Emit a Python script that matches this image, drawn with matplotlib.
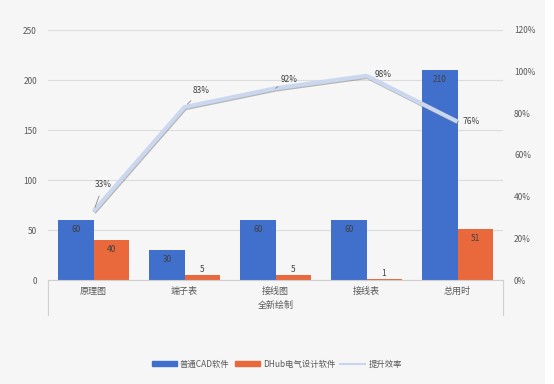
import matplotlib
matplotlib.use('Agg')
import matplotlib.pyplot as plt
import matplotlib.ticker as mtick
import matplotlib.patheffects as pe
from matplotlib.lines import Line2D
from matplotlib.patches import Rectangle
import numpy as np

plt.rcParams['font.family'] = ['Noto Sans CJK SC', 'DejaVu Sans']

# data
categories = ['原理图', '端子表', '接线图', '接线表', '总用时']
group_label = '全新绘制'
cad_values = [60, 30, 60, 60, 210]
dhub_values = [40, 5, 5, 1, 51]
efficiency = [0.33, 0.83, 0.92, 0.98, 0.76]
eff_labels = ['33%', '83%', '92%', '98%', '76%']
series_names = ['普通CAD软件', 'DHub电气设计软件', '提升效率']

blue = '#4170cc'
orange = '#e9693c'
text_col = '#595959'
bg = '#f6f6f6'

fig = plt.figure(figsize=(5.54, 3.84), dpi=100, facecolor=bg)
# white strip on the right edge
fig.add_artist(Rectangle((545 / 554, 0), 9 / 554, 1, transform=fig.transFigure,
                         facecolor='white', edgecolor='none'))

ax = fig.add_axes([48 / 554, 1 - 280 / 384, 455 / 554, 250 / 384])
ax.set_facecolor(bg)
ax2 = ax.twinx()

x = np.arange(len(categories))
w = 0.385

b1 = ax.bar(x - w / 2, cad_values, w, color=blue, zorder=2)
b2 = ax.bar(x + w / 2, dhub_values, w, color=orange, zorder=2)

# bar value labels: inside the top when tall enough, above otherwise
for bars, vals in [(b1, cad_values), (b2, dhub_values)]:
    for rect, v in zip(bars, vals):
        cx = rect.get_x() + rect.get_width() / 2
        dy = -7 if v > 15 else 4
        ax.annotate(str(v), (cx, v), xytext=(0, dy), textcoords='offset points',
                    ha='center', va='center', fontsize=6, color='#404040', zorder=4)

ax.set_ylim(0, 250)
ax.set_yticks(range(0, 251, 50))
ax.set_xlim(-0.5, len(categories) - 0.5)
ax.set_xticks(x)
ax.set_xticklabels(categories)
ax.tick_params(axis='x', length=0, pad=5, labelsize=6.5, colors=text_col)
ax.tick_params(axis='y', length=0, pad=8, labelsize=6, colors=text_col)
ax.grid(axis='y', color='#dcdcdc', linewidth=0.8, zorder=0)
ax.set_axisbelow(True)
for s in ['top', 'right', 'left']:
    ax.spines[s].set_visible(False)
ax.spines['bottom'].set_color('#d0d0d0')

# efficiency line, pale with a soft shadow
ax2.plot(x, efficiency, color='#cbd7ef', linewidth=3, solid_capstyle='butt', zorder=5,
         path_effects=[pe.SimpleLineShadow(offset=(0.5, -0.8), shadow_color='#808080', alpha=0.55),
                       pe.Normal()])
ax2.set_ylim(0, 1.2)
ax2.set_yticks(np.arange(0, 1.21, 0.2))
ax2.yaxis.set_major_formatter(mtick.PercentFormatter(1.0, decimals=0))
ax2.tick_params(axis='y', length=0, pad=8, labelsize=6, colors=text_col)
for s in ax2.spines.values():
    s.set_visible(False)

offsets = [(7, 19), (12, 12), (10, 6.5), (12, 1), (10, 0)]
leaders = [True, True, True, False, False]
for xi, yi, lab, off, lead in zip(x, efficiency, eff_labels, offsets, leaders):
    props = dict(arrowstyle='-', color='#8a8a8a', lw=0.6, shrinkA=3, shrinkB=3) if lead else None
    ax2.annotate(lab, (xi, yi), xytext=off, textcoords='offset points',
                 ha='center', va='center', fontsize=6, color='#404040',
                 arrowprops=props, zorder=6)

# group label with its bracket lines
ax.text(0.5, -0.10, group_label, transform=ax.transAxes, ha='center', va='center',
        fontsize=6.5, color=text_col)
for xa in [0, 1]:
    ax.add_line(Line2D([xa, xa], [0, -0.14], transform=ax.transAxes, color='#d0d0d0',
                       linewidth=0.8, clip_on=False))

handles = [Rectangle((0, 0), 1, 1, color=blue), Rectangle((0, 0), 1, 1, color=orange),
           Line2D([], [], color='#c8d5ee', linewidth=1.5)]
fig.legend(handles, series_names, loc='center', bbox_to_anchor=(0.5, 1 - 364 / 384),
           ncol=3, frameon=False, fontsize=6, handlelength=3, handleheight=0.5,
           handletextpad=0.4, columnspacing=0.6, labelcolor=text_col)

fig.savefig('out.png', dpi=100, facecolor=bg)
